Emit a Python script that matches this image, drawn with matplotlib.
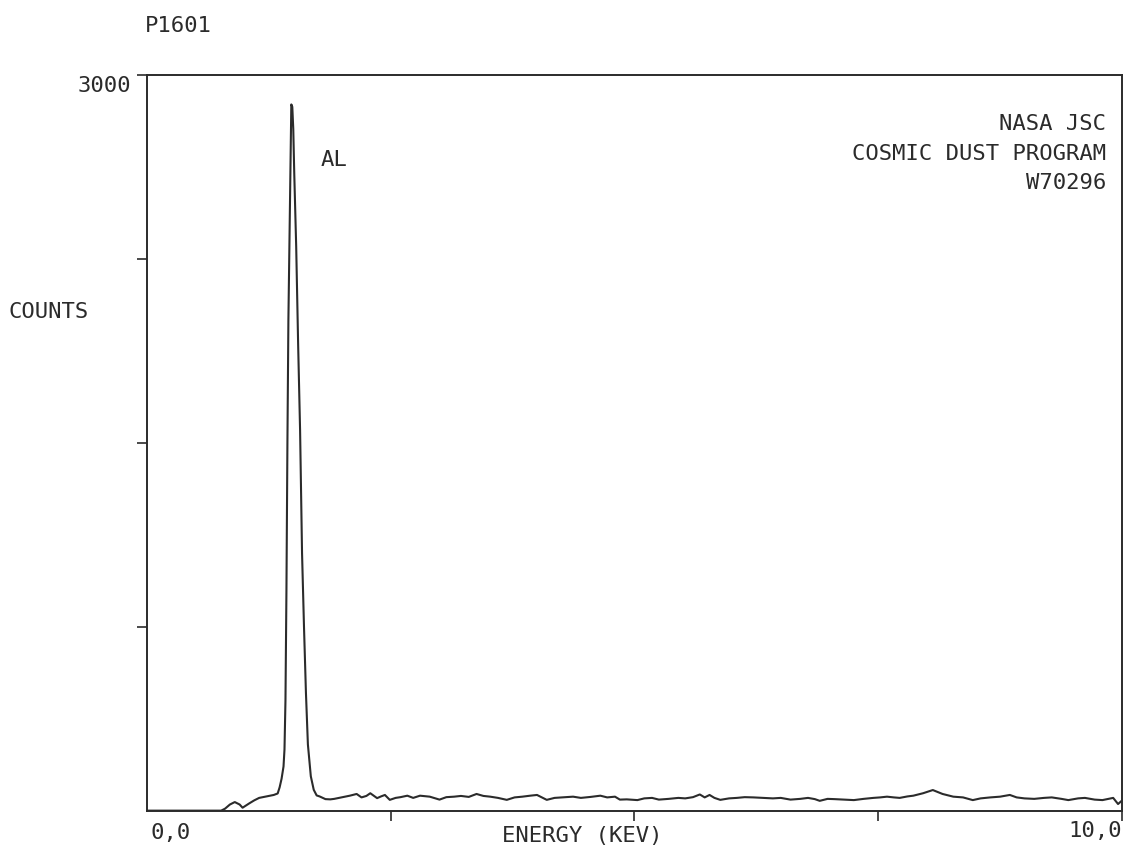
import matplotlib.pyplot as plt

# spectrum: energy (keV) and counts
energy = [0.00, 0.70, 0.76, 0.80, 0.85, 0.90, 0.95, 0.98, 1.05, 1.10, 1.15, 1.20,
          1.25, 1.30, 1.34, 1.36, 1.38, 1.40, 1.41, 1.42, 1.43, 1.44, 1.45, 1.46,
          1.47, 1.48, 1.49, 1.50, 1.51, 1.52, 1.53, 1.54, 1.55, 1.57, 1.59, 1.61,
          1.63, 1.65, 1.68, 1.71, 1.74, 1.77, 1.83, 1.88, 1.92, 1.97, 2.02, 2.08,
          2.15, 2.20, 2.25, 2.29, 2.36, 2.40, 2.44, 2.49, 2.55, 2.60, 2.67, 2.73,
          2.80, 2.90, 3.00, 3.07, 3.15, 3.22, 3.30, 3.38, 3.45, 3.52, 3.60, 3.69,
          3.77, 3.85, 3.93, 4.00, 4.10, 4.18, 4.25, 4.37, 4.45, 4.55, 4.65, 4.72,
          4.80, 4.85, 4.92, 5.03, 5.10, 5.18, 5.25, 5.35, 5.45, 5.52, 5.60, 5.67,
          5.72, 5.77, 5.82, 5.88, 5.97, 6.05, 6.13, 6.22, 6.32, 6.42, 6.50, 6.60,
          6.70, 6.78, 6.85, 6.90, 6.98, 7.05, 7.15, 7.25, 7.35, 7.45, 7.52, 7.59,
          7.66, 7.72, 7.80, 7.86, 7.96, 8.06, 8.16, 8.27, 8.37, 8.47, 8.55, 8.65,
          8.75, 8.85, 8.92, 9.00, 9.10, 9.20, 9.28, 9.38, 9.45, 9.55, 9.62, 9.72,
          9.80, 9.91, 9.96, 10.00]
counts = [0, 0, 0, 8, 25, 35, 25, 12, 30, 42, 52, 56,
          60, 64, 70, 95, 130, 180, 250, 450, 900, 1500, 2000, 2300,
          2600, 2880, 2870, 2780, 2600, 2450, 2300, 2100, 1900, 1550, 1050, 750,
          480, 270, 140, 85, 62, 58, 47, 46, 48, 52, 56, 61,
          68, 54, 60, 71, 51, 58, 64, 44, 52, 55, 61, 52,
          61, 57, 45, 55, 57, 60, 56, 68, 60, 57, 52, 44,
          54, 57, 61, 64, 44, 52, 54, 57, 52, 56, 61, 54,
          57, 45, 46, 43, 50, 52, 45, 48, 52, 50, 55, 66,
          54, 64, 52, 44, 50, 52, 55, 54, 52, 50, 52, 45,
          48, 52, 47, 40, 48, 47, 45, 43, 48, 52, 54, 57,
          54, 52, 58, 61, 71, 84, 68, 57, 54, 43, 50, 54,
          57, 64, 54, 50, 48, 52, 54, 48, 43, 50, 52, 45,
          43, 52, 27, 41]

x_ticks = [2.5, 5.0, 7.5, 10.0]
y_ticks = [750, 1500, 2250, 3000]
ink = "#2b2b2b"
font = "DejaVu Sans Mono"

fig = plt.figure(figsize=(11.31, 8.67), dpi=100)
ax = fig.add_axes([0.130, 0.065, 0.862, 0.8485])

ax.plot(energy, counts, color=ink, linewidth=1.5)
ax.set_xlim(0, 10)
ax.set_ylim(0, 3000)

for s in ax.spines.values():
    s.set_color(ink)
    s.set_linewidth(1.4)

ax.set_xticks(x_ticks)
ax.set_yticks(y_ticks)
ax.set_xticklabels([])
ax.set_yticklabels([])
ax.tick_params(direction="out", length=7, width=1.2, color=ink)

kw = dict(family=font, fontsize=16, color=ink)
fig.text(145 / 1131, 1 - 26 / 867, "P1601", ha="left", va="center", **kw)
fig.text(131 / 1131, 1 - 86 / 867, "3000", ha="right", va="center", **kw)
fig.text(8 / 1131, 1 - 312 / 867, "COUNTS", ha="left", va="center", **kw)
ax.text(1.78, 2655, "AL", ha="left", va="center", **kw)
fig.text(1106 / 1131, 1 - 124 / 867, "NASA JSC", ha="right", va="center", **kw)
fig.text(1106 / 1131, 1 - 154 / 867, "COSMIC DUST PROGRAM", ha="right", va="center", **kw)
fig.text(1106 / 1131, 1 - 183 / 867, "W70296", ha="right", va="center", **kw)
fig.text(150 / 1131, 1 - 833 / 867, "0,0", ha="left", va="center", **kw)
fig.text(582 / 1131, 1 - 836 / 867, "ENERGY (KEV)", ha="center", va="center", **kw)
fig.text(1122 / 1131, 1 - 831 / 867, "10,0", ha="right", va="center", **kw)

plt.savefig("out.png", dpi=100)
